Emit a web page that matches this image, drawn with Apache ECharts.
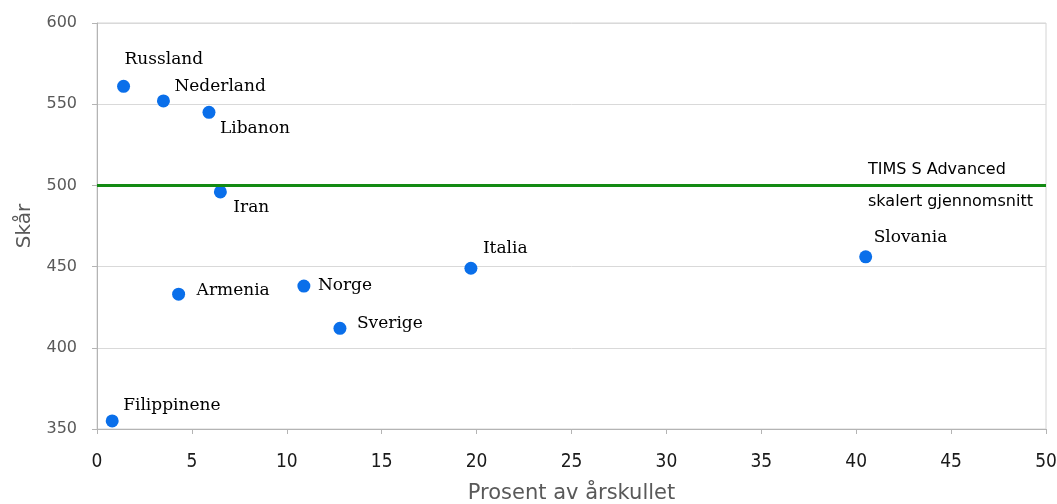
<!DOCTYPE html>
<html>
<head>
<meta charset="utf-8">
<style>
  html, body { margin: 0; padding: 0; background: #ffffff; }
  #chart { width: 1057px; height: 504px; }
</style>
<script src="https://cdn.jsdelivr.net/npm/echarts@6/dist/echarts.min.js"></script>
</head>
<body>
<div id="chart"></div>
<script>
// Countries, share of the age cohort (%) and score
const countries = ['Russland', 'Nederland', 'Libanon', 'Iran', 'Armenia', 'Norge', 'Sverige', 'Italia', 'Slovania', 'Filippinene'];
const cohortPercent = [1.4, 3.5, 5.9, 6.5, 4.3, 10.9, 12.8, 19.7, 40.5, 0.8];
const scores = [561, 552, 545, 496, 433, 438, 412, 449, 456, 355];

// Scale average reference line
const scaleMean = 500;
const scaleMeanLabel = ['TIMS S Advanced', 'skalert gjennomsnitt'];

// Axis ranges and titles
const xMin = 0, xMax = 50, xStep = 5;
const yMin = 350, yMax = 600, yStep = 50;
const xTitle = 'Prosent av årskullet';
const yTitle = 'Skår';

// Where each country name sits relative to its dot (left edge x, middle y)
const labelOffsets = [[1, -27], [11, -14], [11, 16], [13, 16], [18, -4], [14, -1], [17, -5], [12, -20], [8, -19], [11, -15]];

const points = countries.map((name, i) => ({
  name: name,
  value: [cohortPercent[i], scores[i]],
  label: { offset: labelOffsets[i] }
}));

const gray = '#595959';
const chart = echarts.init(document.getElementById('chart'), null, { renderer: 'canvas' });

chart.setOption({
  backgroundColor: '#ffffff',
  animation: false,
  grid: {
    left: 97, right: 11, top: 23, bottom: 75,
    containLabel: false,
    outerBoundsMode: 'none',
    show: true, borderColor: '#d4d4d4', borderWidth: 1
  },
  xAxis: {
    type: 'value',
    min: xMin, max: xMax, interval: xStep,
    name: xTitle,
    nameLocation: 'middle',
    nameGap: 54,
    nameTextStyle: { color: gray, fontFamily: 'DejaVu Sans', fontSize: 21 },
    axisLine: { show: true, lineStyle: { color: '#b4b4b4', width: 1 } },
    axisTick: { show: true, length: 5, lineStyle: { color: '#b4b4b4' } },
    axisLabel: { color: '#1a1a1a', fontFamily: 'DejaVu Sans Condensed', fontSize: 19, margin: 24 },
    splitLine: { show: false }
  },
  yAxis: {
    type: 'value',
    min: yMin, max: yMax, interval: yStep,
    name: yTitle,
    nameLocation: 'middle',
    nameGap: 62,
    nameTextStyle: { color: gray, fontFamily: 'DejaVu Sans', fontSize: 20 },
    axisLine: { show: true, lineStyle: { color: '#b4b4b4', width: 1 } },
    axisTick: { show: true, length: 5, lineStyle: { color: '#b4b4b4' } },
    axisLabel: { color: gray, fontFamily: 'DejaVu Sans', fontSize: 16, margin: 20 },
    splitLine: { show: true, lineStyle: { color: '#d9d9d9', width: 1 } }
  },
  series: [{
    type: 'scatter',
    data: points,
    symbol: 'circle',
    symbolSize: 13,
    itemStyle: { color: '#0a6fea', opacity: 1 },
    label: {
      show: true,
      position: 'inside',
      align: 'left',
      verticalAlign: 'middle',
      formatter: p => p.name,
      color: '#000000',
      textBorderWidth: 0,
      fontFamily: 'DejaVu Serif',
      fontSize: 17
    },
    markLine: {
      silent: true,
      symbol: 'none',
      lineStyle: { color: '#138a13', width: 3, type: 'solid' },
      label: {
        show: true,
        position: 'insideEnd',
        distance: 10,
        formatter: '{a|' + scaleMeanLabel[0] + '}\n{a|' + scaleMeanLabel[1] + '}',
        rich: {
          a: { color: '#000000', fontFamily: 'DejaVu Sans', fontSize: 16, lineHeight: 32, width: 168, align: 'left' }
        }
      },
      data: [{ yAxis: scaleMean }]
    }
  }]
});
</script>
</body>
</html>
